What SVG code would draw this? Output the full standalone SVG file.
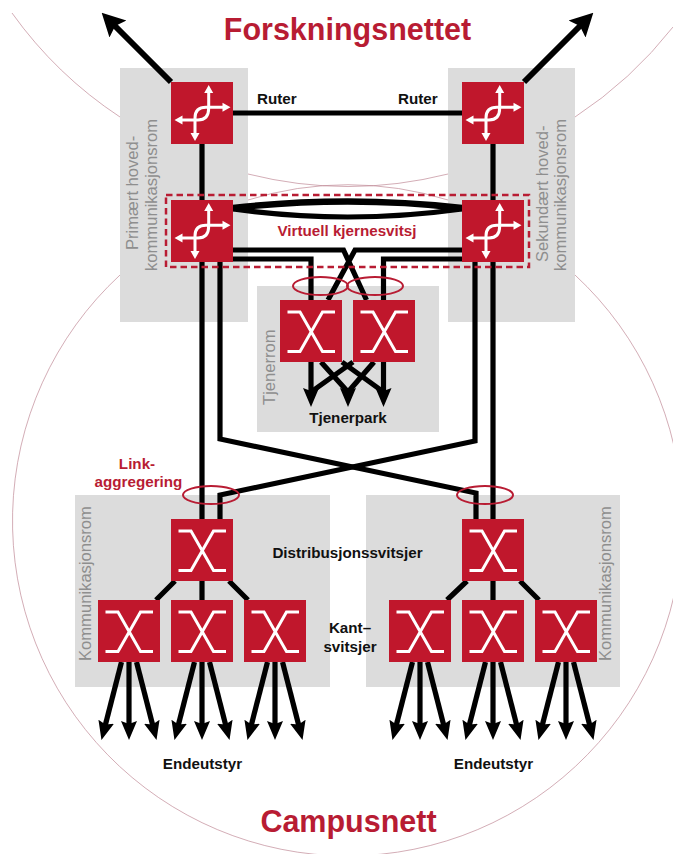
<svg xmlns="http://www.w3.org/2000/svg" width="673" height="854" viewBox="0 0 673 854">
<style>
text{font-family:"Liberation Sans",Arial,sans-serif}
.room{fill:#dcdcdc}
.arc{fill:none;stroke:#c08a96;stroke-width:.7}
.box{fill:#c0172c}
.ic{fill:none;stroke:#fff;stroke-width:3}
.iw{fill:#fff}
.c{fill:none;stroke:#000;stroke-width:5.200}
.e{fill:none;stroke:#b81c33;stroke-width:2}
.t{font-size:15.200px;font-weight:700;fill:#111}
.r{font-size:15.200px;font-weight:700;fill:#b81c33}
.g{font-size:16.600px;fill:#8e8e8e}
.h{font-size:30.500px;font-weight:700;fill:#b81c33}
</style>
<defs>
<marker id="ah" markerUnits="userSpaceOnUse" markerWidth="19" markerHeight="18" refX="6" refY="9" orient="auto"><path d="M19 9L0 1L3 9L0 17Z"/></marker>
<marker id="ab" markerUnits="userSpaceOnUse" markerWidth="23" markerHeight="26" refX="7" refY="13" orient="auto"><path d="M23 13L0 1L4 13L0 25Z"/></marker>
<g id="sw"><path class="ic" d="M7.500 12H20L42.500 51.500H55M55 12H42.500L20 51.500H7.500"/></g>
<g id="ro">
<path class="ic" d="M37.700 8V26Q37.700 38 27 38H9M54 25.300H35Q24 25.300 24 36V54"/>
<path class="iw" d="M37.700 3L42.200 11H33.200ZM59.500 25.300L51.500 29.800V20.800ZM3.500 38L11.500 33.500V42.500ZM24 59L19.500 51H28.500Z"/>
</g>
</defs>
<g id="background-arcs">
<path class="arc" d="M12 13A411 411 0 0 0 120 117"/>
<path class="arc" d="M248 174A411 411 0 0 0 448 174"/>
<path class="arc" d="M575 117A411 411 0 0 0 673 27"/>
<path class="arc" d="M120 275A335 335 0 1 0 575 275"/>
<path class="arc" d="M248 200A335 335 0 0 1 448 200"/>
</g>
<g id="rooms">
<rect class="room" x="120" y="68" width="128" height="254"/>
<rect class="room" x="448" y="68" width="127" height="254"/>
<rect class="room" x="257" y="286" width="182" height="146"/>
<rect class="room" x="75" y="495" width="255" height="192"/>
<rect class="room" x="366" y="495" width="254" height="192"/>
</g>
<g id="connectors">
<path class="c" d="M233 113H462M202 143V200M493 143V200"/>
<path class="c" style="stroke-width:6" d="M171 82L113 24" marker-end="url(#ab)"/>
<path class="c" style="stroke-width:6" d="M524 82L582 24" marker-end="url(#ab)"/>
<path class="c" style="stroke-width:6.500" d="M233 208Q348 195 462 208"/>
<path class="c" d="M233 209Q348 225 462 209"/>
<path class="c" d="M233 250H343.500L366.500 300M462 250H355L328 300M233 259H311V300M462 259H383.500V300"/>
<path class="c" d="M311 362V394" marker-end="url(#ah)"/>
<path class="c" d="M383.500 362V394" marker-end="url(#ah)"/>
<path class="c" d="M321 362L348 392V394" marker-end="url(#ah)"/>
<path class="c" d="M374 362L348 392"/>
<path class="c" d="M342 362L383.500 392M353 362L311 392"/>
<path class="c" d="M202 262V519M493 262V519"/>
<path class="c" d="M220 262V439L476 493V519"/>
<path class="c" d="M475 262V441L220 495V519"/>
<path class="c" d="M175 581L156 600M229 581L248 600M202 581V600M467 581L447 600M520 581L539 600M493 581V600"/>
<g id="edge-fans">
<path class="c" d="M121.500 662L104.700 727.500" marker-end="url(#ah)"/><path class="c" d="M129 662V727" marker-end="url(#ah)"/><path class="c" d="M136.500 662L153.300 727.500" marker-end="url(#ah)"/>
<path class="c" d="M194.500 662L177.700 727.500" marker-end="url(#ah)"/><path class="c" d="M202 662V727" marker-end="url(#ah)"/><path class="c" d="M209.500 662L226.300 727.500" marker-end="url(#ah)"/>
<path class="c" d="M267.500 662L250.700 727.500" marker-end="url(#ah)"/><path class="c" d="M275 662V727" marker-end="url(#ah)"/><path class="c" d="M282.500 662L299.300 727.500" marker-end="url(#ah)"/>
<path class="c" d="M412.500 662L395.700 727.500" marker-end="url(#ah)"/><path class="c" d="M420 662V727" marker-end="url(#ah)"/><path class="c" d="M427.500 662L444.300 727.500" marker-end="url(#ah)"/>
<path class="c" d="M485.500 662L468.700 727.500" marker-end="url(#ah)"/><path class="c" d="M493 662V727" marker-end="url(#ah)"/><path class="c" d="M500.500 662L517.300 727.500" marker-end="url(#ah)"/>
<path class="c" d="M558.500 662L541.700 727.500" marker-end="url(#ah)"/><path class="c" d="M566 662V727" marker-end="url(#ah)"/><path class="c" d="M573.500 662L590.300 727.500" marker-end="url(#ah)"/>
</g>
</g>
<g id="virtual-core-switch"><rect x="166" y="195" width="363" height="72" fill="none" stroke="#b81c33" stroke-width="2.500" stroke-dasharray="6.500 4"/></g>
<g id="link-aggregations">
<ellipse class="e" cx="320.500" cy="286" rx="27.500" ry="9"/>
<ellipse class="e" cx="375" cy="286" rx="28" ry="9"/>
<ellipse class="e" cx="211" cy="495" rx="28" ry="9"/>
<ellipse class="e" cx="485" cy="495" rx="28" ry="9"/>
</g>
<g id="router-top-left" transform="translate(171 82)"><rect class="box" width="62" height="62"/><use href="#ro"/></g>
<g id="router-top-right" transform="translate(462 82)"><rect class="box" width="62" height="62"/><use href="#ro"/></g>
<g id="router-core-left" transform="translate(171 200)"><rect class="box" width="62" height="62"/><use href="#ro"/></g>
<g id="router-core-right" transform="translate(462 200)"><rect class="box" width="62" height="62"/><use href="#ro"/></g>
<g id="server-switch-1" transform="translate(280 300)"><rect class="box" width="62" height="62"/><use href="#sw"/></g>
<g id="server-switch-2" transform="translate(353 300)"><rect class="box" width="62" height="62"/><use href="#sw"/></g>
<g id="dist-left" transform="translate(171 519)"><rect class="box" width="62" height="62"/><use href="#sw"/></g>
<g id="dist-right" transform="translate(462 519)"><rect class="box" width="62" height="62"/><use href="#sw"/></g>
<g id="edge-1" transform="translate(98 600)"><rect class="box" width="62" height="62"/><use href="#sw"/></g>
<g id="edge-2" transform="translate(171 600)"><rect class="box" width="62" height="62"/><use href="#sw"/></g>
<g id="edge-3" transform="translate(244 600)"><rect class="box" width="62" height="62"/><use href="#sw"/></g>
<g id="edge-4" transform="translate(389 600)"><rect class="box" width="62" height="62"/><use href="#sw"/></g>
<g id="edge-5" transform="translate(462 600)"><rect class="box" width="62" height="62"/><use href="#sw"/></g>
<g id="edge-6" transform="translate(535 600)"><rect class="box" width="62" height="62"/><use href="#sw"/></g>
<g id="labels">
<text class="h" x="347.500" y="40" text-anchor="middle">Forskningsnettet</text>
<text class="h" x="348.500" y="832" text-anchor="middle">Campusnett</text>
<text class="t" x="257" y="104">Ruter</text>
<text class="t" x="398" y="104">Ruter</text>
<text class="r" x="347" y="236" text-anchor="middle">Virtuell kjernesvitsj</text>
<text class="t" x="348" y="423" text-anchor="middle">Tjenerpark</text>
<text class="t" x="347.500" y="558" text-anchor="middle">Distribusjonssvitsjer</text>
<text class="t" x="350" y="632.500" text-anchor="middle">Kant–</text>
<text class="t" x="350" y="651.500" text-anchor="middle">svitsjer</text>
<text class="t" x="202.500" y="769" text-anchor="middle">Endeutstyr</text>
<text class="t" x="493.500" y="769" text-anchor="middle">Endeutstyr</text>
<text class="r" x="137" y="469" text-anchor="middle">Link-</text>
<text class="r" x="138.500" y="487" text-anchor="middle">aggregering</text>
<text class="g" transform="translate(138 250) rotate(-90)">Primært hoved-</text>
<text class="g" transform="translate(157 271) rotate(-90)">kommunikasjonsrom</text>
<text class="g" transform="translate(548 262) rotate(-90)">Sekundært hoved-</text>
<text class="g" transform="translate(566 271) rotate(-90)">kommunikasjonsrom</text>
<text class="g" transform="translate(275 405) rotate(-90)">Tjenerrom</text>
<text class="g" transform="translate(90.500 661) rotate(-90)">Kommunikasjonsrom</text>
<text class="g" transform="translate(611 661) rotate(-90)">Kommunikasjonsrom</text>
</g>
</svg>
